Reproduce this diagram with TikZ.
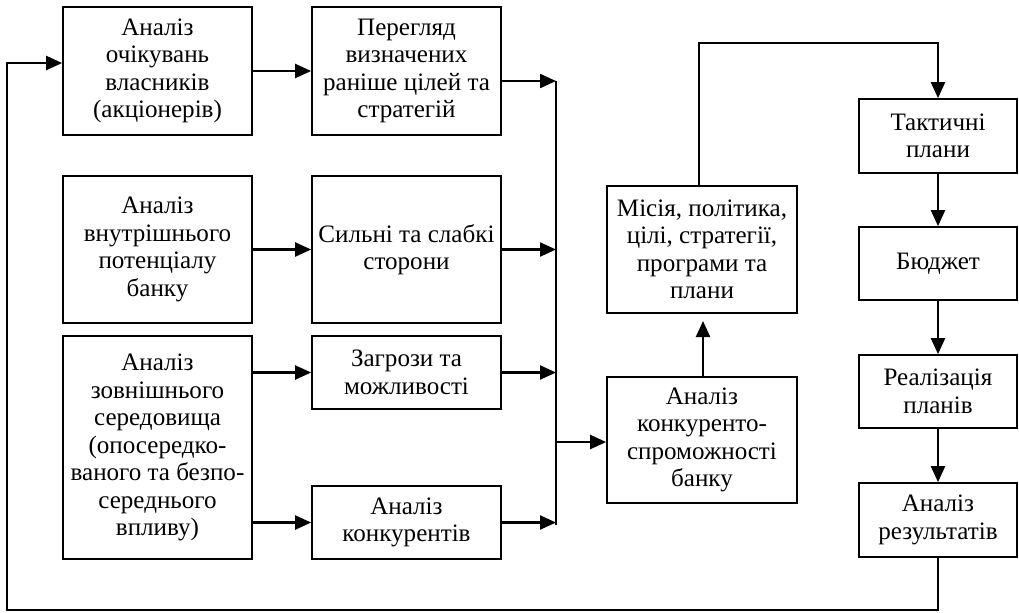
\documentclass[tikz,border=0pt]{standalone}
\usepackage{fontspec}
\setmainfont{Liberation Serif}
\usetikzlibrary{arrows.meta}
\tikzset{
  bx/.style={draw, line width=1.3pt, align=center, inner sep=0pt,
    font=\fontsize{18.8}{20.6}\selectfont},
  wA/.style={minimum width=141.75pt},
  wC/.style={minimum width=142.5pt},
  wD/.style={minimum width=118.5pt},
  arr/.style={line width=1.7pt, -{Triangle[length=12pt,width=10.5pt]}},
  ln/.style={line width=1.7pt}
}
\begin{document}
\begin{tikzpicture}[x=0.75pt,y=-0.75pt]
\useasboundingbox (0,0) rectangle (1019,612);
% left column
\node[bx,wA,minimum height=96pt] (A1) at (157.5,71) {Аналіз\\очікувань\\власників\\(акціонерів)};
\node[bx,wA,minimum height=110.25pt] (A2) at (157.5,249.5) {Аналіз\\внутрішнього\\потенціалу\\банку};
\node[bx,wA,minimum height=167.25pt] (A3) at (157.5,447.5) {Аналіз\\зовнішнього\\середовища\\(опосередко-\\ваного та безпо-\\середнього\\впливу)};
% second column
\node[bx,wA,minimum height=96pt] (B1) at (406.5,71) {Перегляд\\визначених\\раніше цілей та\\стратегій};
\node[bx,wA,minimum height=110.25pt] (B2) at (406.5,249.5) {Сильні та слабкі\\сторони};
\node[bx,wA,minimum height=54.75pt] (B3) at (406.5,372.5) {Загрози та\\можливості};
\node[bx,wA,minimum height=54.75pt] (B4) at (406.5,522.5) {Аналіз\\конкурентів};
% third column
\node[bx,wC,minimum height=95.25pt] (C1) at (702,249.5) {Місія, політика,\\цілі, стратегії,\\програми та\\плани};
\node[bx,wC,minimum height=94.5pt] (C2) at (702,440) {Аналіз\\конкуренто-\\спроможності\\банку};
% right column
\node[bx,wD,minimum height=55.5pt] (D1) at (938,136) {Тактичні\\плани};
\node[bx,wD,minimum height=54.75pt] (D2) at (938,263.5) {Бюджет};
\node[bx,wD,minimum height=54.75pt] (D3) at (938,391.5) {Реалізація\\планів};
\node[bx,wD,minimum height=55.5pt] (D4) at (938,520) {Аналіз\\результатів};
% bus
\coordinate (bt) at (556,81);
\coordinate (bb) at (556,525);
\coordinate (bm) at (556,442);
\draw[ln] (bt) -- (bb);
% row arrows
\draw[arr] (A1.east) -- (B1.west);
\draw[arr] (B1.east |- bt) -- (bt);
\draw[arr] (A2.east) -- (B2.west);
\draw[arr] (B2.east) -- (B2.east -| bt);
\draw[arr] (A3.east |- B3.east) -- (B3.west);
\draw[arr] (B3.east) -- (B3.east -| bt);
\draw[arr] (A3.east |- B4.east) -- (B4.west);
\draw[arr] (B4.east) -- (B4.east -| bt);
\draw[arr] (bm) -- (bm -| C2.west);
% C2 -> C1
\coordinate (c1t) at (703,321);
\draw[arr] (C2.north -| c1t) -- (c1t);
% C1 -> D1
\coordinate (tl) at (699,43);
\draw[arr] (C1.north -| tl) -- (tl) -- (tl -| D1.north) -- (D1.north);
% right chain
\draw[arr] (D1) -- (D2);
\draw[arr] (D2) -- (D3);
\draw[arr] (D3) -- (D4);
% feedback
\coordinate (fb) at (7,610);
\coordinate (fl) at (7,63);
\draw[arr] (D4.south) -- (D4.south |- fb) -- (fb) -- (fl) -- (fl -| A1.west);
\end{tikzpicture}
\end{document}
